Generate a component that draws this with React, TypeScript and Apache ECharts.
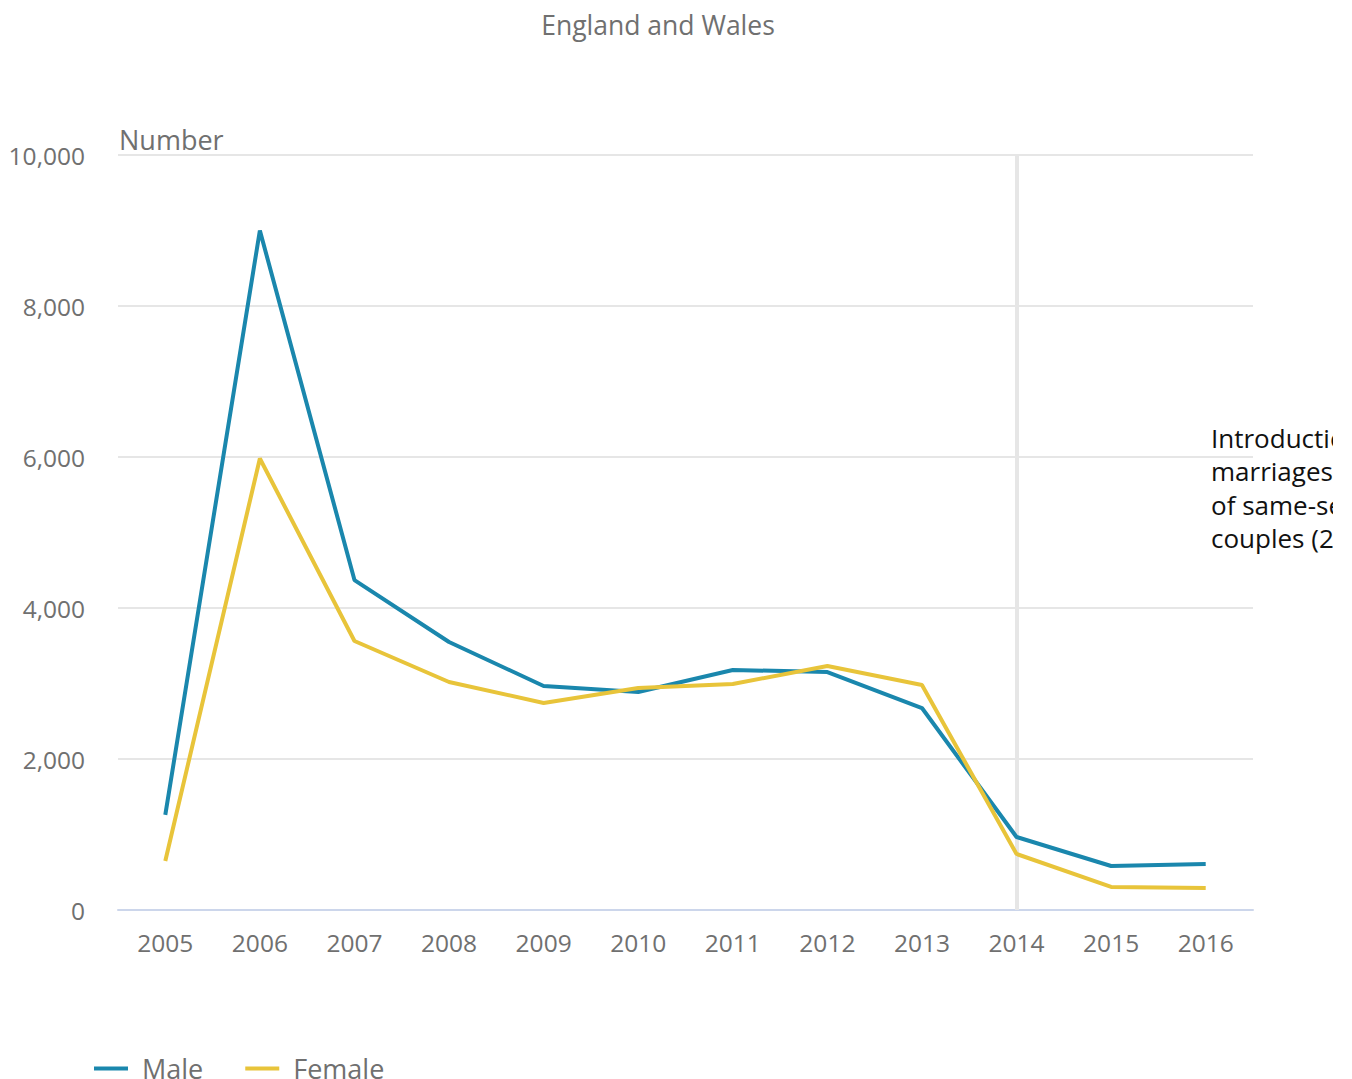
import React, { useEffect, useRef } from "react";
import * as echarts from "echarts";

const years = ["2005", "2006", "2007", "2008", "2009", "2010", "2011", "2012", "2013", "2014", "2015", "2016"];
const male = [1260, 9000, 4370, 3550, 2967, 2887, 3179, 3152, 2675, 967, 583, 609];
const female = [650, 5980, 3563, 3020, 2742, 2940, 2993, 3232, 2980, 742, 305, 291];
const yTicks = { min: 0, max: 10000, interval: 2000 };
const markerYear = "2014";
const annotation = "Introduction of\nmarriages\nof same-sex\ncouples (2014)";

const FONT = "'Open Sans', 'Noto Sans', sans-serif";
const GREY = "#707070";
const WIDTH = 1333;

export default function App() {
  const ref = useRef<HTMLDivElement>(null);
  useEffect(() => {
    if (!ref.current) return;
    const chart = echarts.init(ref.current, null, { renderer: "svg" });
    chart.setOption({
      animation: false,
      textStyle: { fontFamily: FONT },
      grid: { left: 118, right: WIDTH - 1253, top: 155, bottom: 169, containLabel: false },
      legend: {
        left: 89,
        top: 1050,
        itemWidth: 34,
        itemHeight: 4,
        itemGap: 42,
        icon: "rect",
        textStyle: { fontSize: 27, color: GREY, fontFamily: FONT, padding: [0, 0, 0, 9] },
        data: ["Male", "Female"],
      },
      xAxis: {
        type: "category",
        data: years,
        boundaryGap: true,
        axisLine: { lineStyle: { color: "#ccd6eb", width: 2 } },
        axisTick: { alignWithLabel: true, length: 20, lineStyle: { color: "#ccd6eb", width: 2 } },
        axisLabel: { fontSize: 24.5, color: GREY, margin: 20, fontFamily: FONT },
        splitLine: { show: false },
      },
      yAxis: {
        type: "value",
        min: yTicks.min,
        max: yTicks.max,
        interval: yTicks.interval,
        axisLine: { show: false },
        axisTick: { show: false },
        axisLabel: {
          fontSize: 24.5,
          color: GREY,
          margin: 33,
          fontFamily: FONT,
          formatter: (v: number) => v.toLocaleString("en-GB"),
        },
        splitLine: { lineStyle: { color: "#e6e6e6", width: 2 } },
      },
      graphic: [
        {
          type: "text",
          x: 658,
          y: 25,
          style: {
            text: "England and Wales",
            fontSize: 26.5,
            fill: GREY,
            fontFamily: FONT,
            textAlign: "center",
            textVerticalAlign: "middle",
          },
        },
        {
          type: "text",
          x: 119,
          y: 139,
          style: {
            text: "Number",
            fontSize: 27,
            fill: GREY,
            fontFamily: FONT,
            textVerticalAlign: "middle",
          },
        },
        {
          type: "text",
          x: 1211,
          y: 421,
          style: {
            text: annotation,
            fontSize: 26,
            lineHeight: 33.5,
            fill: "#111",
            fontFamily: FONT,
          },
        },
      ],
      series: [
        {
          name: "marker",
          type: "line",
          data: [],
          z: 1,
          silent: true,
          markLine: {
            silent: true,
            z: 1,
            symbol: "none",
            label: { show: false },
            lineStyle: { color: "#e6e6e6", width: 4, type: "solid" },
            data: [{ xAxis: markerYear }],
          },
        },
        {
          name: "Male",
          type: "line",
          data: male,
          z: 10,
          color: "#1a87ad",
          showSymbol: false,
          symbol: "none",
          lineStyle: { width: 4, color: "#1a87ad" },
        },
        {
          name: "Female",
          type: "line",
          data: female,
          z: 11,
          color: "#e8c43a",
          showSymbol: false,
          symbol: "none",
          lineStyle: { width: 4, color: "#e8c43a" },
        },
      ],
    });
    return () => chart.dispose();
  }, []);
  return (
    <div
      ref={ref}
      style={{ position: "absolute", left: 0, top: 0, width: WIDTH, height: 1079, overflow: "hidden", background: "#fff" }}
    />
  );
}
